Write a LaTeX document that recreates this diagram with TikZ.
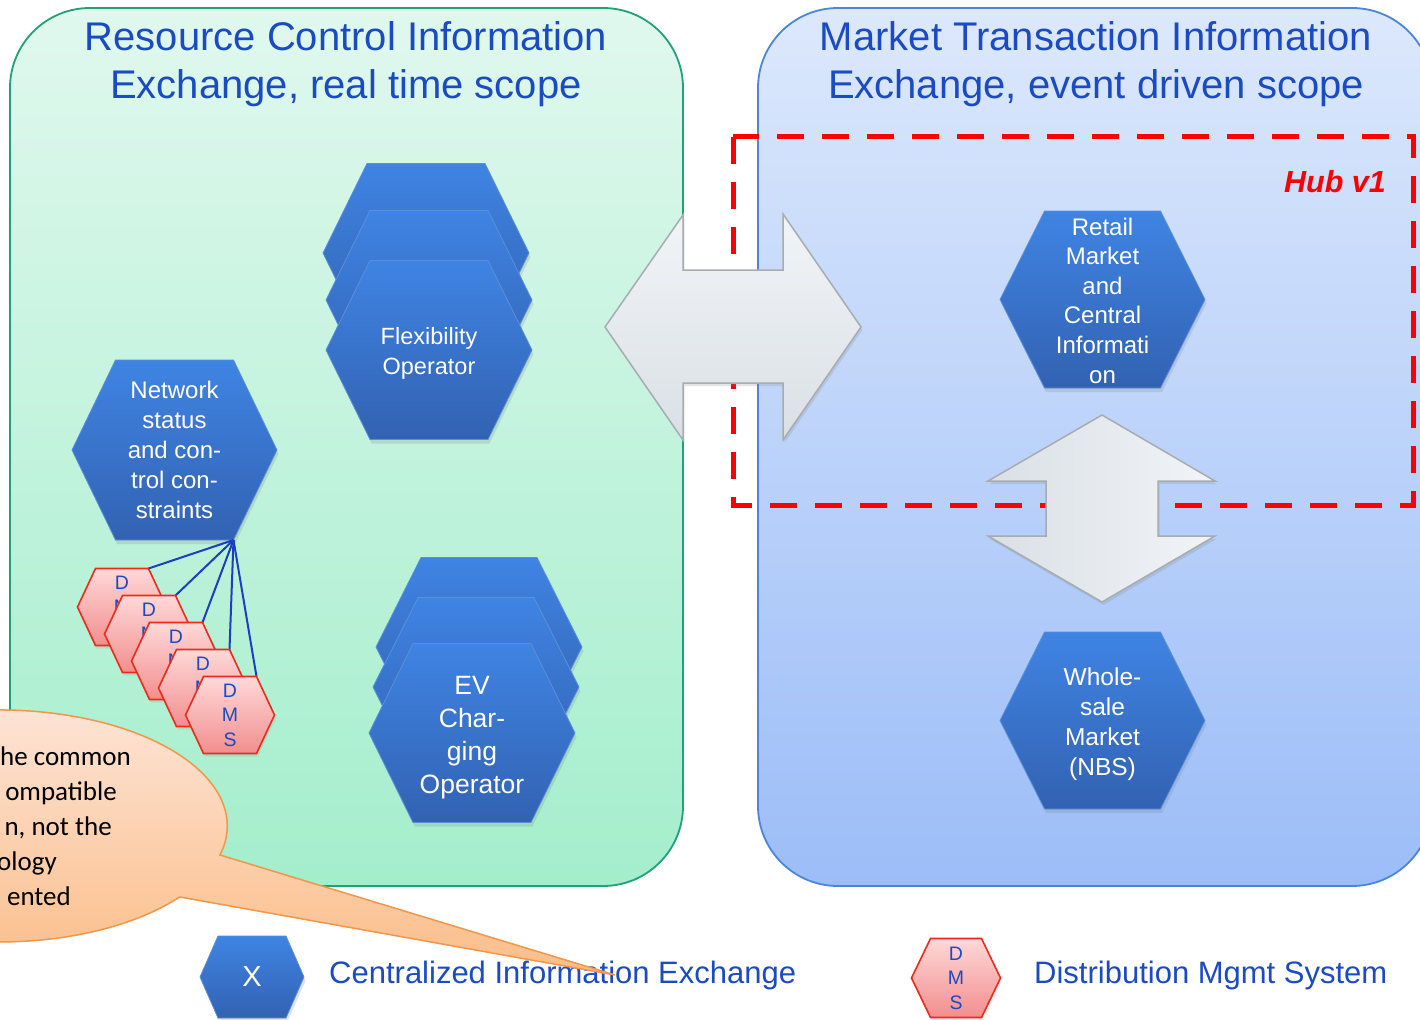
\documentclass[tikz,border=0pt]{standalone}
\usepackage{fontspec}
\setmainfont{Liberation Sans}
\newfontfamily\calfont{Carlito}
\usetikzlibrary{shadows}
\definecolor{lpTop}{HTML}{E0F8EE}
\definecolor{lpBot}{HTML}{A4EECC}
\definecolor{lpBorder}{HTML}{1FA277}
\definecolor{rpTop}{HTML}{DCE8FC}
\definecolor{rpBot}{HTML}{9CBDF8}
\definecolor{rpBorder}{HTML}{4C86DA}
\definecolor{titleblue}{HTML}{1A4BC4}
\definecolor{hexTop}{HTML}{3F84E3}
\definecolor{hexBot}{HTML}{3262B2}
\definecolor{hexBorder}{HTML}{5A8FDA}
\definecolor{dmsTop}{HTML}{FFD8D8}
\definecolor{dmsBot}{HTML}{F28E8E}
\definecolor{dmsRed}{HTML}{EE2A1A}
\definecolor{arrTop}{HTML}{F2F4F7}
\definecolor{arrBot}{HTML}{D9E0E5}
\definecolor{arrBorder}{HTML}{A6ACB0}
\definecolor{netblue}{HTML}{1A3FC4}
\definecolor{coTop}{HTML}{FDE5D8}
\definecolor{coBot}{HTML}{FBBD88}
\definecolor{coBorder}{HTML}{F2964A}
\definecolor{hubred}{HTML}{FF0000}

\newcommand{\hexa}[8]{%
  \begin{scope}[shift={(#3)}]
    \path[#1] (-#4,0) -- (-#5,-#6) -- (#5,-#6) -- (#4,0) -- (#5,#6) -- (-#5,#6) -- cycle;
    \coordinate (#2-ne) at (#5,-#6);
    \coordinate (#2-se) at (#5,#6);
    \node[#7] (#2) at (0,0) {#8};
  \end{scope}}

\begin{document}
\begin{tikzpicture}[x=1pt,y=-1pt,
  leftpanel/.style={top color=lpTop, bottom color=lpBot, draw=lpBorder, line width=1.8pt, rounded corners=80pt},
  rightpanel/.style={top color=rpTop, bottom color=rpBot, draw=rpBorder, line width=1.8pt, rounded corners=80pt},
  title/.style={text=titleblue, align=center, font=\fontsize{40}{47.5}\selectfont, inner sep=0},
  hubline/.style={draw=hubred, line width=5pt, dash pattern=on 27pt off 18pt},
  bigarrow/.style={draw=arrBorder, line width=1.5pt, drop shadow={opacity=0.2, shadow xshift=1.5pt, shadow yshift=-3pt}},
  bluehex/.style={top color=hexTop, bottom color=hexBot, draw=hexBorder, line width=0.8pt,
    drop shadow={opacity=0.22, shadow xshift=1.5pt, shadow yshift=-4pt}},
  dmshex/.style={top color=dmsTop, bottom color=dmsBot, draw=dmsRed, line width=1.6pt,
    drop shadow={opacity=0.15, shadow xshift=1.5pt, shadow yshift=-3pt}},
  hextext/.style={text=white, align=center, inner sep=0},
  dmstext/.style={text=titleblue, align=center, inner sep=0, font=\fontsize{19.5}{24.5}\selectfont},
  netline/.style={draw=netblue, line width=2pt},
  legendtext/.style={text=titleblue, inner sep=0, font=\fontsize{31}{37}\selectfont},
  callout/.style={top color=coTop, bottom color=coBot, draw=coBorder, line width=1.5pt},
  calltext/.style={text=black, inner sep=0, font=\fontsize{27}{35}\calfont}
]
\useasboundingbox (0,0) rectangle (1420,1019);
\fill[white] (0,0) rectangle (1420,1019);

% panels
\path[leftpanel] (10,8) rectangle (683,886);
\path[rightpanel] (758,8) rectangle (1432,886);

% titles
\node[title] (ltitle) at (346,64) {Resource Control Information\\Exchange, real time scope};
\node[title] (rtitle) at (1096,64) {Market Transaction Information\\Exchange, event driven scope};

% hub
\draw[hubline] (733,137) rectangle (1413,505);
\node[text=hubred, inner sep=0, anchor=east, font=\fontsize{30.5}{36}\selectfont\bfseries\itshape] (hub) at (1386,182) {Hub v1};

% big arrows
\path[bigarrow, top color=arrTop, bottom color=arrBot] (605,327) -- (683,215) -- (683,270) -- (783,270) -- (783,214) -- (861,327) -- (783,440) -- (783,383) -- (683,383) -- (683,440) -- cycle;
\path[bigarrow, left color=arrBot, right color=arrTop] (1102,415) -- (1215,481) -- (1158,481) -- (1158,536) -- (1215,536) -- (1102,602) -- (988,536) -- (1046,536) -- (1046,481) -- (988,481) -- cycle;

% flexibility operator stack
\hexa{bluehex}{fo1}{426,253}{103}{59}{89.5}{hextext}{}
\hexa{bluehex}{fo2}{429,300}{103}{59}{89.5}{hextext}{}
\hexa{bluehex}{fo}{429,350}{103}{59}{89.5}{hextext,yshift=-3.5pt,font=\fontsize{23.5}{30}\selectfont}{Flexibility\\Operator}

% EV charging stack
\hexa{bluehex}{ev1}{479,647}{103}{58}{89.5}{hextext}{}
\hexa{bluehex}{ev2}{476,687}{103}{58}{89.5}{hextext}{}
\hexa{bluehex}{ev}{472,733}{103}{59}{89.5}{hextext,yshift=-5pt,font=\fontsize{26.5}{33}\selectfont}{EV\\Char-\\ging\\Operator}

% network
\hexa{bluehex}{net}{174.5,450}{102.5}{59}{90}{hextext,font=\fontsize{24}{30}\selectfont}{Network\\status\\and con-\\trol con-\\straints}

% retail and wholesale
\hexa{bluehex}{retail}{1102.5,299.5}{102.5}{58}{88.5}{hextext,yshift=-1pt,font=\fontsize{24}{29.6}\selectfont}{Retail\\Market\\and\\Central\\Informati\\on}
\hexa{bluehex}{whole}{1102.5,720.5}{102.5}{58}{88.5}{hextext,yshift=-3.5pt,font=\fontsize{24.5}{30}\selectfont}{Whole-\\sale\\Market\\(NBS)}

% DMS stack with lines
\coordinate (dms1-ne) at (148.5,568.5);
\coordinate (dms2-ne) at (175.5,595.5);
\coordinate (dms3-ne) at (202.5,622.5);
\coordinate (dms4-ne) at (229.5,649.5);
\coordinate (dms5-ne) at (256.5,676.5);
\foreach \i in {1,...,5} { \draw[netline] (net-se) -- (dms\i-ne); }
\hexa{dmshex}{dms1}{122,607}{44.5}{26.5}{38.5}{dmstext}{D\\M\\S}
\hexa{dmshex}{dms2}{149,634}{44.5}{26.5}{38.5}{dmstext}{D\\M\\S}
\hexa{dmshex}{dms3}{176,661}{44.5}{26.5}{38.5}{dmstext}{D\\M\\S}
\hexa{dmshex}{dms4}{203,688}{44.5}{26.5}{38.5}{dmstext}{D\\M\\S}
\hexa{dmshex}{dms5}{230,715}{44.5}{26.5}{38.5}{dmstext}{D\\M\\S}

% legend
\hexa{bluehex}{lx}{252,977}{52}{34}{41}{hextext,font=\fontsize{29}{34}\selectfont}{X}
\node[legendtext, anchor=base west] (lxt) at (329,983) {Centralized Information Exchange};
\hexa{dmshex}{ld}{956,978}{44.5}{25.5}{39.5}{dmstext}{D\\M\\S}
\node[legendtext, anchor=base west] (ldt) at (1034,983) {Distribution Mgmt System};

% callout
\path[callout] (180,897) -- (615,975) -- (220,855) arc[start angle=14.5, end angle=-322.2, x radius=228, y radius=116] -- cycle;
\node[calltext, anchor=base east] (c1) at (131,765) {he common};
\node[calltext, anchor=base east] (c2) at (117,800) {ompatible};
\node[calltext, anchor=base east] (c3) at (112,835) {n, not the};
\node[calltext, anchor=base east] (c4) at (57,870) {ology};
\node[calltext, anchor=base east] (c5) at (71,905) {ented};
\end{tikzpicture}
\end{document}
